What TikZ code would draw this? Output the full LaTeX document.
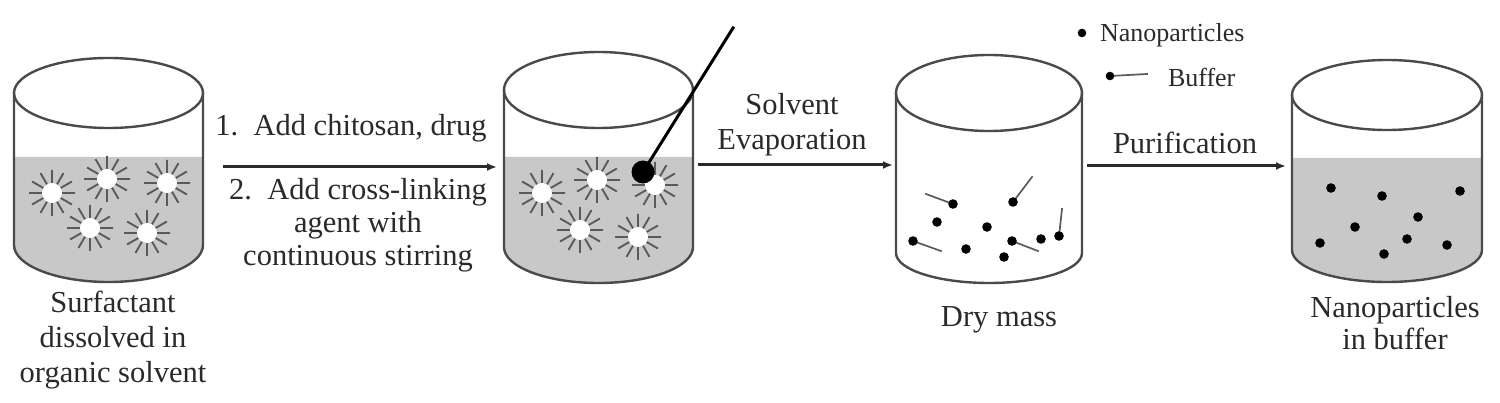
\documentclass[tikz,border=0pt]{standalone}
\usepackage{fontspec}
\setmainfont{Liberation Serif}
\usetikzlibrary{arrows.meta}
\begin{document}
\begin{tikzpicture}[x=1pt,y=-1pt,line cap=rect]
\def\diagfontA{\fontsize{30.5pt}{35pt}\selectfont}
\def\diagfontB{\fontsize{26pt}{30pt}\selectfont}
\definecolor{custcol_0_0_0}{RGB}{0, 0, 0}
\definecolor{custcol_2a_2a_2a}{RGB}{42, 42, 42}
\definecolor{custcol_4a_4a_4a}{RGB}{74, 74, 74}
\definecolor{custcol_5a_5a_5a}{RGB}{90, 90, 90}
\definecolor{custcol_c8_c8_c8}{RGB}{200, 200, 200}
\definecolor{custcol_ff_ff_ff}{RGB}{255, 255, 255}
\def\micelle#1#2{\draw [line width=1.9pt, custcol_5a_5a_5a, line cap=butt] (#1,#2) +(0:23) -- +(180:23) +(30:23) -- +(210:23) +(60:23) -- +(240:23) +(90:23) -- +(270:23) +(120:23) -- +(300:23) +(150:23) -- +(330:23);
\fill [custcol_ff_ff_ff] (#1,#2) circle (10.0);}
\tikzset{
  beakerline/.style={line width=2.4pt, custcol_4a_4a_4a},
  flowarrow/.style={line width=3.0pt, custcol_2a_2a_2a, line cap=butt, -{Latex[length=10pt,width=8pt]}},
  steptext/.style={inner sep=0, outer sep=0, custcol_2a_2a_2a, font=\diagfontA, align=center},
  legendtext/.style={inner sep=0, outer sep=0, custcol_2a_2a_2a, font=\diagfontB, anchor=west},
  ball/.style={circle, fill=custcol_0_0_0, inner sep=0, minimum size=23pt}
}
\useasboundingbox (0,0) rectangle (1500,403);
% beaker 1: surfactant in organic solvent
\fill [custcol_c8_c8_c8] (14.0,157.0) -- (14.0,245.0) arc (180:0:94.5 and 37.0) -- (203.0,157.0) -- cycle;
\draw [beakerline] (14.0,93.0) -- (14.0,245.0) arc (180:0:94.5 and 37.0) -- (203.0,93.0);
\draw [beakerline] (108.5,93.0) ellipse (94.5 and 35.0);
\micelle{52}{193}
\micelle{107}{179}
\micelle{167}{183}
\micelle{90}{228}
\micelle{147}{233}
% beaker 2: stirring
\fill [custcol_c8_c8_c8] (504.0,157.0) -- (504.0,247.0) arc (180:0:94.5 and 36.0) -- (693.0,157.0) -- cycle;
\draw [beakerline] (504.0,90.0) -- (504.0,247.0) arc (180:0:94.5 and 36.0) -- (693.0,90.0);
\draw [beakerline] (598.5,90.0) ellipse (94.5 and 38.0);
\micelle{542}{193}
\micelle{597}{180}
\micelle{655}{185}
\micelle{580}{230}
\micelle{638}{237}
\coordinate (rodtop) at (733.0,28.0);
\node [ball] (stirball) at (643.0,172.0) {};
\draw [line width=3.0pt, custcol_0_0_0] (rodtop) -- (stirball.center);
% beaker 3: dry mass
\draw [beakerline] (896.0,93.0) -- (896.0,253.0) arc (180:0:93.0 and 30.0) -- (1082.0,93.0);
\draw [beakerline] (989.0,93.0) ellipse (93.0 and 38.0);
\draw [line width=1.7pt, custcol_5a_5a_5a] (953.0,204.0) -- (926.0,194.0);
\draw [line width=1.7pt, custcol_5a_5a_5a] (1013.0,202.0) -- (1032.0,177.0);
\draw [line width=1.7pt, custcol_5a_5a_5a] (913.0,241.0) -- (941.0,251.0);
\draw [line width=1.7pt, custcol_5a_5a_5a] (1012.0,241.0) -- (1038.0,251.0);
\draw [line width=1.7pt, custcol_5a_5a_5a] (1059.0,236.0) -- (1062.0,209.0);
\fill [custcol_0_0_0] (953.0,204.0) circle (4.8);
\fill [custcol_0_0_0] (1013.0,202.0) circle (4.8);
\fill [custcol_0_0_0] (937.0,222.0) circle (4.8);
\fill [custcol_0_0_0] (987.0,227.0) circle (4.8);
\fill [custcol_0_0_0] (913.0,241.0) circle (4.8);
\fill [custcol_0_0_0] (966.0,249.0) circle (4.8);
\fill [custcol_0_0_0] (1012.0,241.0) circle (4.8);
\fill [custcol_0_0_0] (1041.0,239.0) circle (4.8);
\fill [custcol_0_0_0] (1059.0,236.0) circle (4.8);
\fill [custcol_0_0_0] (1004.0,257.0) circle (4.8);
% beaker 4: nanoparticles in buffer
\fill [custcol_c8_c8_c8] (1292.0,158.0) -- (1292.0,250.0) arc (180:0:95.0 and 32.0) -- (1482.0,158.0) -- cycle;
\draw [beakerline] (1292.0,95.0) -- (1292.0,250.0) arc (180:0:95.0 and 32.0) -- (1482.0,95.0);
\draw [beakerline] (1387.0,95.0) ellipse (95.0 and 35.0);
\fill [custcol_0_0_0] (1331.0,188.0) circle (4.8);
\fill [custcol_0_0_0] (1382.0,196.0) circle (4.8);
\fill [custcol_0_0_0] (1460.0,191.0) circle (4.8);
\fill [custcol_0_0_0] (1418.0,217.0) circle (4.8);
\fill [custcol_0_0_0] (1355.0,227.0) circle (4.8);
\fill [custcol_0_0_0] (1320.0,243.0) circle (4.8);
\fill [custcol_0_0_0] (1407.0,239.0) circle (4.8);
\fill [custcol_0_0_0] (1447.0,245.0) circle (4.8);
\fill [custcol_0_0_0] (1384.0,254.0) circle (4.8);
% legend
\fill [custcol_0_0_0] (1082.0,33.0) circle (4.3);
\node [legendtext] (legnano) at (1100.0,35.0) {Nanoparticles};
\draw [line width=1.7pt, custcol_5a_5a_5a] (1110.0,76.0) -- (1147.0,74.0);
\fill [custcol_0_0_0] (1110.0,76.0) circle (4.3);
\node [legendtext] (legbuffer) at (1168.0,77.0) {Buffer};
% arrows and labels
\coordinate (a1s) at (223.0,167.0);
\coordinate (a1e) at (497.0,167.0);
\coordinate (a2s) at (698.0,165.0);
\coordinate (a2e) at (893.0,165.0);
\coordinate (a3s) at (1087.0,166.0);
\coordinate (a3e) at (1286.0,166.0);
\draw [flowarrow] (a1s) -- (a1e);
\draw [flowarrow] (a2s) -- (a2e);
\draw [flowarrow] (a3s) -- (a3e);
\node [steptext] (stepone) at (351.0,128.0) {1.\enspace Add chitosan, drug};
\node [steptext, font=\fontsize{30.5pt}{33pt}\selectfont] (steptwo) at (358.0,225.0) {2.\enspace Add cross-linking\\agent with\\continuous stirring};
\node [steptext] (evap) at (792.0,125.0) {Solvent\\Evaporation};
\node [steptext] (purif) at (1185.0,143.0) {Purification};
\node [steptext] (lblsurf) at (113.0,340.0) {Surfactant\\dissolved in\\organic solvent};
\node [steptext] (lbldry) at (999.0,320.0) {Dry mass};
\node [steptext, font=\fontsize{30.5pt}{32pt}\selectfont] (lblnano) at (1395.0,323.0) {Nanoparticles\\in buffer};
\end{tikzpicture}
\end{document}
